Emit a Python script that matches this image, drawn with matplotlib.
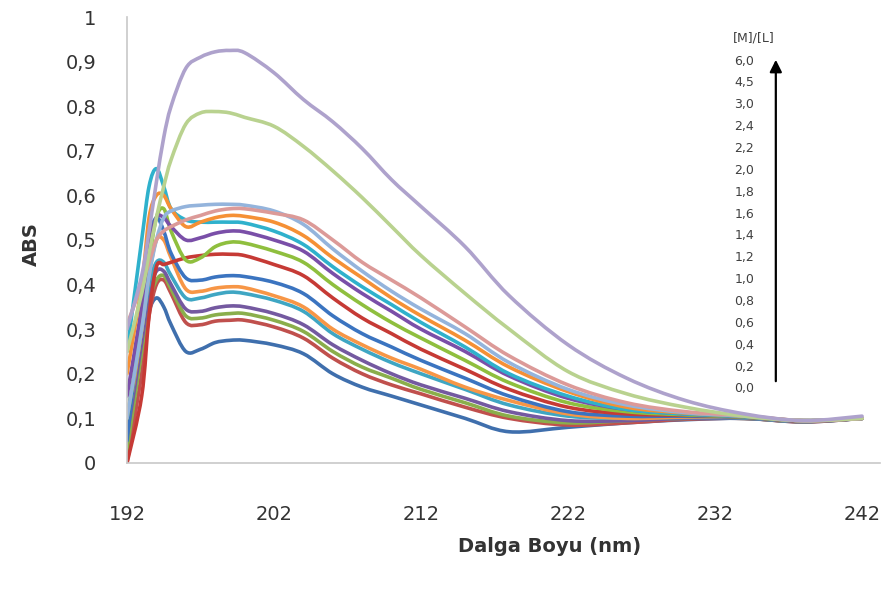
import matplotlib
matplotlib.use("Agg")
import matplotlib.pyplot as plt
from matplotlib.path import Path
from matplotlib.patches import PathPatch
import numpy as np

# wavelength grid (nm) and absorbance, series bottom -> top
wl = [192, 193, 193.5, 194, 194.5, 195, 196, 197, 198, 199, 200,
      202, 204, 206, 208, 210, 212, 215, 218, 222, 226, 230, 234, 238, 242]

s01 = [.05, .25, .34, .37, .35, .31, .25, .255, .27, .275, .275,
       .265, .245, .20, .17, .15, .13, .10, .07, .08, .09, .097, .10, .092, .10]
s02 = [.00, .20, .33, .40, .41, .38, .315, .31, .318, .32, .32,
       .305, .28, .235, .20, .175, .155, .125, .10, .085, .09, .098, .10, .092, .10]
s03 = [.03, .25, .36, .41, .42, .39, .33, .325, .332, .335, .335,
       .32, .295, .25, .215, .19, .165, .135, .105, .09, .095, .10, .10, .093, .10]
s04 = [.06, .27, .38, .43, .43, .40, .345, .34, .348, .352, .35,
       .335, .31, .265, .23, .20, .175, .145, .115, .095, .095, .10, .10, .093, .10]
s05 = [.10, .30, .40, .45, .45, .42, .37, .37, .378, .383, .38,
       .365, .34, .29, .255, .225, .20, .165, .13, .105, .10, .102, .101, .093, .10]
s06 = [.08, .30, .42, .50, .50, .46, .39, .385, .392, .395, .393,
       .375, .35, .30, .265, .235, .21, .17, .14, .11, .10, .103, .102, .094, .10]
s07 = [.05, .35, .50, .55, .52, .47, .415, .41, .417, .42, .418,
       .405, .38, .33, .29, .26, .23, .19, .15, .115, .105, .105, .102, .094, .10]
s08 = [.00, .15, .33, .44, .445, .45, .46, .465, .468, .468, .465,
       .445, .42, .37, .325, .29, .255, .21, .165, .125, .11, .107, .103, .094, .10]
s09 = [.10, .30, .45, .55, .57, .52, .455, .46, .485, .495, .493,
       .475, .45, .40, .355, .315, .28, .23, .18, .135, .115, .108, .103, .095, .10]
s10 = [.15, .35, .48, .55, .55, .53, .50, .505, .515, .52, .518,
       .50, .475, .425, .38, .34, .30, .25, .195, .145, .12, .11, .104, .095, .10]
s11 = [.25, .50, .62, .66, .62, .57, .545, .54, .54, .54, .538,
       .52, .49, .44, .395, .355, .315, .26, .20, .15, .12, .11, .104, .095, .10]
s12 = [.20, .40, .55, .60, .60, .57, .53, .54, .55, .555, .553,
       .54, .51, .46, .415, .37, .33, .275, .215, .16, .125, .112, .105, .095, .10]
s13 = [.10, .30, .42, .50, .55, .565, .575, .578, .58, .58, .578,
       .565, .535, .48, .43, .385, .345, .29, .225, .165, .13, .113, .105, .095, .10]
s14 = [.31, .40, .45, .50, .52, .53, .545, .555, .565, .57, .57,
       .56, .545, .50, .45, .41, .37, .305, .24, .175, .135, .115, .106, .095, .10]
s15 = [.25, .38, .47, .55, .62, .68, .76, .785, .788, .785, .775,
       .755, .71, .655, .595, .53, .465, .38, .30, .205, .155, .125, .105, .095, .10]
s16 = [.30, .42, .52, .63, .73, .80, .885, .91, .922, .925, .92,
       .875, .815, .765, .705, .635, .575, .485, .375, .265, .19, .14, .11, .095, .105]

series = [s01, s02, s03, s04, s05, s06, s07, s08,
          s09, s10, s11, s12, s13, s14, s15, s16]
ratios = ["0,0", "0,2", "0,4", "0,6", "0,8", "1,0", "1,2", "1,4",
          "1,6", "1,8", "2,0", "2,2", "2,4", "3,0", "4,5", "6,0"]

colors = ["#3f6fad", "#c0504d", "#8aae4b", "#7459a0", "#3fa6c3", "#f79646",
          "#3b74c0", "#c63a35", "#8fbf3e", "#7a4fa8", "#2fb1cc", "#f59035",
          "#94b4dc", "#dc9a98", "#b9d28f", "#aea2cc"]


def smooth_path(xs, ys):
    # Excel-style smoothed line: cubic Bezier through the points (Catmull-Rom, 1/6)
    pts = np.column_stack([xs, ys])
    n = len(pts)
    verts = [pts[0]]
    codes = [Path.MOVETO]
    for i in range(n - 1):
        p0 = pts[max(i - 1, 0)]
        p1 = pts[i]
        p2 = pts[i + 1]
        p3 = pts[min(i + 2, n - 1)]
        verts += [p1 + (p2 - p0) / 6, p2 - (p3 - p1) / 6, p2]
        codes += [Path.CURVE4] * 3
    return Path(verts, codes)


fig = plt.figure(figsize=(8.85, 5.97), dpi=100)
ax = fig.add_axes([0.1435, 0.2245, 0.8505, 0.747])

for ys, c in zip(series, colors):
    ax.add_patch(PathPatch(smooth_path(wl, ys), facecolor="none", edgecolor=c,
                           lw=2.6, capstyle="round", joinstyle="round"))

ax.set_xlim(192, 243.2)
ax.set_ylim(0, 1)
ax.set_xticks([192, 202, 212, 222, 232, 242])
yt = np.round(np.arange(0, 1.01, 0.1), 1)
ax.set_yticks(yt)
ax.set_yticklabels(["0" if v == 0 else "1" if v == 1 else f"{v:.1f}".replace(".", ",") for v in yt])
ax.tick_params(length=0, labelsize=14, colors="#333333")
ax.tick_params(axis="y", pad=22)
ax.tick_params(axis="x", pad=30)

for s in ["top", "right"]:
    ax.spines[s].set_visible(False)
for s in ["left", "bottom"]:
    ax.spines[s].set_color("#c8c8c8")
    ax.spines[s].set_linewidth(1.2)

ax.set_ylabel("ABS", fontsize=14, fontweight="bold", color="#333333")
ax.yaxis.set_label_coords(-0.115, 0.49)
ax.set_xlabel("Dalga Boyu (nm)", fontsize=14, fontweight="bold", color="#333333")
ax.xaxis.set_label_coords(0.562, -0.166)

# concentration ratio list with arrow
ax.text(0.805, 0.953, "[M]/[L]", transform=ax.transAxes, fontsize=9,
        color="#404040", va="center", ha="left")
top_y, bot_y = (463 - 61) / 446, (463 - 389) / 446
for i, r in enumerate(ratios):
    yy = bot_y + (top_y - bot_y) * i / (len(ratios) - 1)
    ax.text(0.807, yy, r, transform=ax.transAxes, fontsize=9,
            color="#404040", va="center", ha="left")
ax.annotate("", xy=(0.862, (463 - 57) / 446), xytext=(0.862, (463 - 384) / 446),
            xycoords="axes fraction",
            arrowprops=dict(arrowstyle="-|>", color="black", lw=1.6,
                            mutation_scale=18))

fig.savefig("out.png", dpi=100)
